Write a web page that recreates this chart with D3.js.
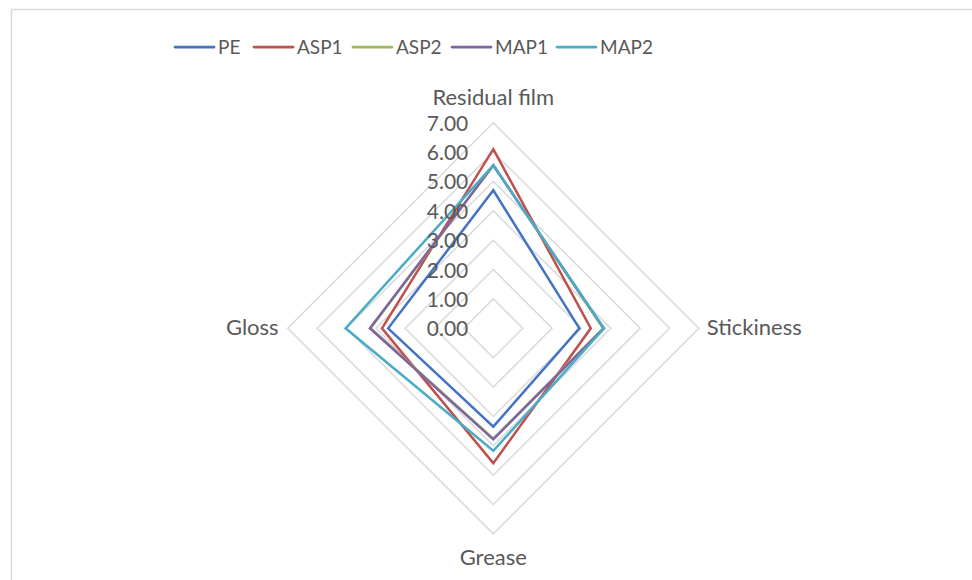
<!DOCTYPE html>
<html>
<head>
<meta charset="utf-8">
<script src="https://cdn.jsdelivr.net/npm/d3@7/dist/d3.min.js"></script>
<style>
  html, body { margin: 0; padding: 0; background: #fff; }
  svg { display: block; font-family: Lato, "Open Sans", sans-serif; }
</style>
</head>
<body>
<svg id="chart" width="972" height="580"></svg>
<script>
// Radar axes, clockwise from the top
const axes = ["Residual film", "Stickiness", "Grease", "Gloss"];

// Series values, in the same order as the axes
const seriesNames = ["PE", "ASP1", "ASP2", "MAP1", "MAP2"];
const PE   = [4.70, 2.93, 3.35, 3.58];
const ASP1 = [6.10, 3.32, 4.59, 3.79];
const ASP2 = [5.55, 3.74, 3.76, 4.18];
const MAP1 = [5.55, 3.76, 3.78, 4.20];
const MAP2 = [5.55, 3.77, 4.17, 5.03];
const seriesValues = [PE, ASP1, ASP2, MAP1, MAP2];
const seriesColors = ["#4472C4", "#C0504D", "#9BBB59", "#8064A2", "#4BACC6"];

// Radial tick labels
const ticks = [0, 1, 2, 3, 4, 5, 6, 7];
const tickLabels = ticks.map(t => t.toFixed(2));

const svg = d3.select("#chart");
const textColor = "#595959";
const gridColor = "#d9d9d9";

// Chart frame (continues past the right and bottom edges)
svg.append("rect")
  .attr("x", 11.5).attr("y", 9.5)
  .attr("width", 1000).attr("height", 600)
  .attr("fill", "none").attr("stroke", gridColor).attr("stroke-width", 1.5);

const cx = 493.3, cy = 328.3;
const r = d3.scaleLinear().domain([0, 7]).range([0, 205.6]);
const angle = d3.scalePoint().domain(axes).range([0, 2 * Math.PI * (axes.length - 1) / axes.length]);

const g = svg.append("g").attr("transform", `translate(${cx},${cy})`);

const radial = d3.lineRadial()
  .angle(d => d.a)
  .radius(d => r(d.v))
  .curve(d3.curveLinearClosed);

// Grid rings
g.selectAll("path.ring")
  .data(ticks.filter(t => t > 0))
  .join("path")
  .attr("class", "ring")
  .attr("d", t => radial(axes.map(a => ({ a: angle(a), v: t }))))
  .attr("fill", "none")
  .attr("stroke", gridColor)
  .attr("stroke-width", 1.5);

// Series polygons
g.selectAll("path.series")
  .data(seriesValues)
  .join("path")
  .attr("class", "series")
  .attr("d", vals => radial(vals.map((v, i) => ({ a: angle(axes[i]), v }))))
  .attr("fill", "none")
  .attr("stroke", (d, i) => seriesColors[i])
  .attr("stroke-width", 2.5)
  .attr("stroke-linejoin", "miter");

// Radial tick labels
g.selectAll("text.tick")
  .data(ticks)
  .join("text")
  .attr("class", "tick")
  .attr("x", -25)
  .attr("y", t => -r(t) + 8)
  .attr("text-anchor", "end")
  .attr("fill", textColor)
  .attr("font-size", 21)
  .text((t, i) => tickLabels[i]);

// Axis category labels
const labelPos = { "Residual film": [0, -223.5], "Stickiness": [261, 7], "Grease": [0, 237], "Gloss": [-241, 7] };
g.selectAll("text.axis")
  .data(axes)
  .join("text")
  .attr("class", "axis")
  .attr("x", a => labelPos[a][0])
  .attr("y", a => labelPos[a][1])
  .attr("text-anchor", "middle")
  .attr("fill", textColor)
  .attr("font-size", 22)
  .text(a => a);

// Legend
const legendX = [175, 254, 353, 452, 557];
const legend = svg.append("g").attr("transform", "translate(0,47)");
const items = legend.selectAll("g")
  .data(seriesNames)
  .join("g")
  .attr("transform", (d, i) => `translate(${legendX[i]},0)`);
items.append("line")
  .attr("x1", 0).attr("x2", 39)
  .attr("y1", 0).attr("y2", 0)
  .attr("stroke", (d, i) => seriesColors[i])
  .attr("stroke-width", 2.75)
  .attr("stroke-linecap", "round");
items.append("text")
  .attr("x", 43)
  .attr("y", 7)
  .attr("fill", textColor)
  .attr("font-size", 19)
  .text(d => d);
</script>
</body>
</html>
